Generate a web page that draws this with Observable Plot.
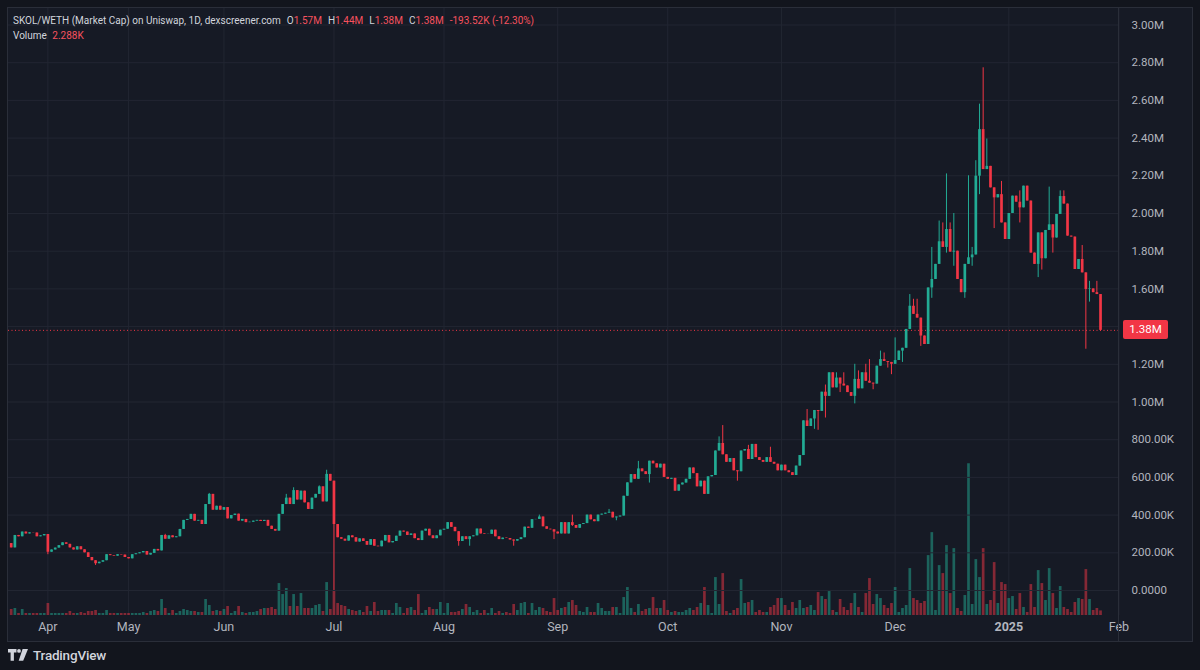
<!DOCTYPE html>
<html>
<head>
<meta charset="utf-8">
<script src="https://cdn.jsdelivr.net/npm/d3@7"></script>
<script src="https://cdn.jsdelivr.net/npm/@observablehq/plot@0.6"></script>
<style>
html,body{margin:0;padding:0;background:#12151d;width:1200px;height:670px;overflow:hidden;font-family:Roboto,"Noto Sans",sans-serif;}
#panel{position:absolute;left:7px;top:7px;width:1186px;height:635px;background:#161a25;border:1px solid #2a2e39;box-sizing:border-box;}
#vol,#price{position:absolute;left:0;top:0;}
#sep{position:absolute;left:1118px;top:8px;width:1px;height:633px;background:#2a2e39;}
#legend{position:absolute;left:13px;top:13px;font-size:10px;line-height:15px;color:#d1d4dc;white-space:nowrap;}
#legend .r{color:#f7525f;}
#legend .g{margin-left:6px;}
#last{position:absolute;left:1123px;width:45px;height:19px;background:#f23645;color:#fff;font-size:11.5px;line-height:19px;text-align:center;border-radius:2px;}
#logo{position:absolute;left:8px;top:648px;height:14px;display:flex;align-items:center;color:#d1d4dc;font-size:13.5px;font-weight:500;letter-spacing:-0.2px;}
#logo svg{margin-right:4px;}
</style>
</head>
<body>
<div id="panel"></div>
<div id="vol"></div>
<div id="price"></div>
<div id="sep"></div>
<div id="legend">
  <div>SKOL/WETH (Market Cap) on Uniswap, 1D, dexscreener.com<span class="g">O</span><span class="r">1.57M</span><span class="g">H</span><span class="r">1.44M</span><span class="g">L</span><span class="r">1.38M</span><span class="g">C</span><span class="r">1.38M</span><span class="g r">-193.52K (-12.30%)</span></div>
  <div>Volume <span class="r" style="margin-left:3px">2.288K</span></div>
</div>
<div id="logo"><svg width="21" height="12" viewBox="0 0 21 12"><path d="M0 0h8.5v3.6h-2.6v8.2h-3.3v-8.2h-2.6z" fill="#d1d4dc"/><circle cx="11" cy="1.9" r="1.9" fill="#d1d4dc"/><path d="M14.6 0h5.4l-4.8 11.8h-4.5z" fill="#d1d4dc"/></svg>TradingView</div>
<script>
// ---- data (market cap in millions, daily candles; open = previous close) ----
const firstOpen = 0.249;
const closes = [
  0.226,0.292,0.285,0.31,0.30,0.306,0.305,0.285,0.29,0.297,
  0.203,0.215,0.225,0.238,0.253,0.245,0.226,0.215,0.232,0.216,
  0.20,0.175,0.158,0.142,0.150,0.158,0.19,0.185,0.182,0.19,
  0.188,0.175,0.168,0.19,0.195,0.200,0.207,0.188,0.197,0.218,
  0.21,0.292,0.272,0.29,0.28,0.285,0.324,0.372,0.377,0.404,
  0.368,0.372,0.35,0.456,0.51,0.426,0.447,0.426,0.44,0.38,
  0.398,0.405,0.368,0.377,0.36,0.362,0.368,0.372,0.366,0.372,
  0.341,0.324,0.315,0.404,0.456,0.49,0.456,0.53,0.48,0.527,
  0.465,0.43,0.49,0.51,0.55,0.47,0.616,0.58,0.35,0.28,
  0.272,0.262,0.29,0.28,0.257,0.274,0.26,0.24,0.27,0.235,
  0.232,0.262,0.292,0.253,0.26,0.288,0.315,0.31,0.292,0.30,
  0.275,0.265,0.315,0.325,0.29,0.275,0.29,0.32,0.325,0.36,
  0.335,0.312,0.26,0.285,0.27,0.285,0.29,0.326,0.30,0.297,
  0.298,0.32,0.285,0.27,0.278,0.276,0.268,0.262,0.27,0.28,
  0.336,0.33,0.376,0.377,0.39,0.338,0.325,0.322,0.31,0.30,
  0.36,0.30,0.36,0.345,0.33,0.35,0.355,0.40,0.375,0.365,
  0.40,0.405,0.41,0.415,0.385,0.39,0.395,0.50,0.571,0.615,
  0.59,0.645,0.63,0.615,0.686,0.672,0.65,0.67,0.60,0.59,
  0.595,0.527,0.56,0.57,0.59,0.65,0.62,0.55,0.58,0.51,
  0.603,0.61,0.74,0.78,0.72,0.68,0.70,0.635,0.63,0.74,
  0.748,0.695,0.775,0.705,0.69,0.68,0.705,0.68,0.67,0.635,
  0.665,0.635,0.625,0.61,0.66,0.716,0.90,0.87,0.91,0.955,
  0.95,1.052,1.03,1.155,1.075,1.127,1.095,1.085,1.05,1.03,
  1.12,1.07,1.155,1.11,1.10,1.095,1.19,1.225,1.215,1.21,
  1.20,1.22,1.27,1.285,1.385,1.508,1.465,1.445,1.35,1.305,
  1.605,1.65,1.73,1.85,1.82,1.915,1.795,1.80,1.65,1.58,
  1.73,1.765,1.78,2.198,2.445,2.233,2.25,2.136,2.083,2.10,
  1.95,1.862,2.0,2.092,2.06,2.03,2.145,2.066,1.79,1.73,
  1.897,1.76,1.91,1.94,1.87,1.995,2.09,2.05,1.88,1.875,
  1.703,1.756,1.685,1.597,1.60,1.58,1.57,1.38
];
// candles whose wicks reach beyond the body (null = no extra wick on that side)
const wickIdx  = [10,23,42,54,55,75,77,84,86,88,122,125,137,144,148,153,163,165,171,174,193,194,198,201,207,217,219,220,222,225,226,227,230,231,233,234,235,237,238,239,240,241,243,245,246,247,248,251,253,254,255,256,257,260,261,262,263,264,265,266,268,270,275,280,281,283,284,286,287,292,293,294,296,297];
const wickLow  = [0.19,0.133,null,null,null,null,null,null,null,0.0,0.235,0.235,0.235,null,0.27,0.34,null,0.37,null,0.57,null,null,0.58,null,null,null,0.855,0.85,0.915,null,1.05,null,0.99,null,null,null,1.065,null,null,1.18,1.145,null,1.21,null,null,null,1.295,1.55,null,null,1.79,null,1.72,1.55,null,1.72,null,2.10,null,null,1.92,null,1.95,1.66,1.70,null,1.79,null,null,null,1.28,1.53,null,1.375];
const wickHigh = [null,null,0.298,0.515,0.49,0.51,0.545,0.555,0.638,null,null,null,null,0.40,null,0.40,0.43,null,0.685,null,0.815,0.875,null,0.77,0.76,0.96,null,null,1.09,1.155,null,1.155,1.20,1.165,1.20,1.225,null,1.27,1.26,null,null,1.34,null,1.57,1.545,1.545,null,1.82,1.96,1.95,2.21,1.95,2.0,null,2.20,1.82,2.28,2.58,2.773,2.395,null,2.17,2.12,null,null,2.14,null,2.12,2.12,1.83,null,1.64,1.64,null];
// volume (K)
const volumes = [
  3,3.5,1,3,1,1,1,1,1,1,
  6,1,1,1,1,1,2,1,1,1.5,
  1,2,2,2.5,1,1,2.5,1,1,1,
  1,1,1,1,1,1,1.5,1,2,2.5,
  2,8,3.5,1,2.5,1,2,3,2.5,2,
  2,1.5,1.5,8,5,2,2.5,2,3,4.5,
  1,2,4.5,1.5,1,1.5,1.5,2,3,3.5,
  3.5,4,3,16,10.5,13.5,4.5,10.5,4.5,11,
  3.5,3.5,3.5,5,5.5,2,16.5,3,12.5,6,
  5,4.5,3,2.5,2,2.5,1.5,4.5,2,6.5,
  2,2.5,2.5,2.5,1,6,4,1,3.5,4,
  2.5,10.5,1,2.5,4,3,3,6.5,1,6,
  1.5,1.5,2,3,5.5,4,1.5,2.5,1,2.5,
  1,3.5,1,2,1,1.5,1,5.5,2.5,6,
  6.5,1,6,2.5,4,3.5,2,1.5,8.5,2.5,
  3.5,4,6.5,7.5,5,2,1.5,4,1.5,1.5,
  6,3.5,2,2,4,4,1,9,14,3.5,
  1.5,5.5,2,3,3.5,9,3.5,3.5,7.5,2.5,
  1.5,2,1.5,1.5,2.5,3.5,2.5,4,6,14,
  5,1,19,5.5,21,2,1,2.5,3.5,18,
  6,6.5,7.5,1.5,2.5,1.5,1.5,4,5,8.5,
  8.5,5,2.5,6.5,3.5,7.5,3.5,4,5,2.5,
  11.5,9.5,8,12,2.5,1.5,8,4,2.5,6,
  11,4,1.5,11,18.5,5.5,10.5,8.5,5,3.5,
  6,14,1.5,3.5,5,23.5,8.5,7.5,6,7,
  30,41.5,2.5,25,21,35,11,33.5,3.5,2,
  10,76,5.5,28,19,33.5,5.5,7.5,26.5,6,
  16.5,15.5,8.5,9.5,3,11,4,1.5,15.5,4,
  22.5,16,7.5,23.5,11,3.5,14.5,4,3,1.5,
  6.5,8.5,8,23,8,2.5,3.5,2.288
];
const yTicks = [0,0.2,0.4,0.6,0.8,1.0,1.2,1.4,1.6,1.8,2.0,2.2,2.4,2.6,2.8,3.0];
const monthIdx = [10,32,58,88,118,149,179,210,241,272,302];
const monthLabels = ["Apr","May","Jun","Jul","Aug","Sep","Oct","Nov","Dec","2025","Feb"];

// ---- build table ----
const candles = closes.map((c, i) => {
  const o = i === 0 ? firstOpen : closes[i - 1];
  return {i, o, c, lo: Math.min(o, c), hi: Math.max(o, c), v: volumes[i], up: c >= o};
});
wickIdx.forEach((k, j) => {
  if (wickLow[j] != null) candles[k].lo = Math.min(candles[k].lo, wickLow[j]);
  if (wickHigh[j] != null) candles[k].hi = Math.max(candles[k].hi, wickHigh[j]);
});
const ups = candles.filter(d => d.up), downs = candles.filter(d => !d.up);
const lastClose = closes[closes.length - 1];
// the last-price badge hides the axis label it covers (as the reference does)
const yLabelTicks = yTicks.filter(t => Math.abs(t - lastClose) > 0.06);

const UP = "#22ab94", DOWN = "#f23645", GRID = "#222632";
const fmtY = v => v === 0 ? "0.0000" : v < 1 ? (v * 1000).toFixed(2) + "K" : v.toFixed(2) + "M";
const monthMap = new Map(monthIdx.map((d, i) => [d, monthLabels[i]]));

const common = {
  width: 1200, height: 641,
  marginLeft: 8, marginRight: 82, marginTop: 8, marginBottom: 26,
  style: {background: "transparent", color: "#b2b5be", fontFamily: "Roboto, sans-serif", fontSize: "11.5px", overflow: "visible"}
};
const xDomain = [-0.736, 301.9];

const volChart = Plot.plot({
  ...common,
  x: {domain: xDomain, axis: null, label: null},
  y: {domain: [0, d3.max(volumes) / 0.25], axis: null, label: null},
  marks: [
    Plot.ruleX(monthIdx, {stroke: GRID, strokeWidth: 1}),
    Plot.ruleX(ups, {x: "i", y: "v", stroke: UP, strokeOpacity: 0.5, strokeWidth: 2.7}),
    Plot.ruleX(downs, {x: "i", y: "v", stroke: DOWN, strokeOpacity: 0.5, strokeWidth: 2.7})
  ]
});
document.getElementById("vol").append(volChart);

const priceChart = Plot.plot({
  ...common,
  x: {domain: xDomain, label: null},
  y: {domain: [-0.1326, 3.0875], label: null},
  marks: [
    Plot.gridY(yTicks, {stroke: GRID, strokeOpacity: 1}),
    Plot.ruleY([lastClose], {stroke: DOWN, strokeWidth: 1, strokeDasharray: "1,2.5"}),
    Plot.ruleX(ups, {x: "i", y1: "lo", y2: "hi", stroke: UP, strokeWidth: 1}),
    Plot.ruleX(downs, {x: "i", y1: "lo", y2: "hi", stroke: DOWN, strokeWidth: 1}),
    Plot.ruleX(ups, {x: "i", y1: "o", y2: "c", stroke: UP, strokeWidth: 2.7}),
    Plot.ruleX(downs, {x: "i", y1: "o", y2: "c", stroke: DOWN, strokeWidth: 2.7}),
    Plot.axisY(yLabelTicks, {anchor: "right", label: null, tickSize: 0, tickPadding: 13, tickFormat: fmtY, textAnchor: "start", fill: "#b2b5be", fontSize: 11.5}),
    Plot.axisX(monthIdx, {anchor: "bottom", label: null, tickSize: 0, tickPadding: 7, tickFormat: d => monthMap.get(d), fill: "#b2b5be", fontSize: 12.5})
  ]
});
document.getElementById("price").append(priceChart);
priceChart.querySelectorAll("text").forEach(t => {
  if (t.textContent === "2025") t.setAttribute("font-weight", "bold");
});

const yLast = priceChart.scale("y").apply(lastClose);
const lab = document.createElement("div");
lab.id = "last";
lab.textContent = fmtY(lastClose);
lab.style.top = (yLast - 9.5) + "px";
document.body.append(lab);
</script>
</body>
</html>
